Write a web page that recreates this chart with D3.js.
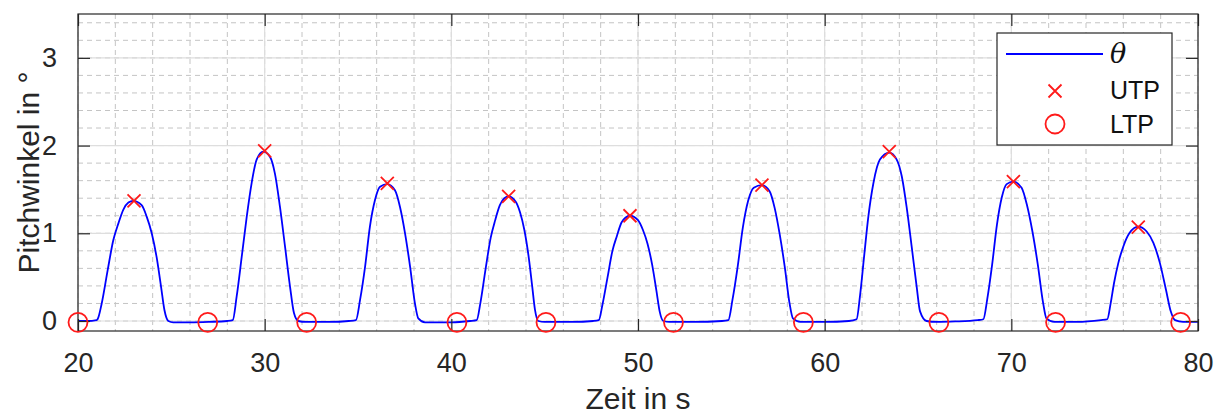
<!DOCTYPE html>
<html>
<head>
<meta charset="utf-8">
<script src="https://cdn.jsdelivr.net/npm/d3@7"></script>
<style>
    body { margin: 0; background: #fff; }
    text { font-family: "Liberation Sans", Arial, Helvetica, sans-serif; }
</style>
</head>
<body>
<div id="chart"></div>
<script>
// pitch angle trace: [time in s, angle in deg]
const thetaPoints = [
    [20.0, 0.0], [20.5, 0.0], [21.0, 0.01],
    [21.05, 0.02], [21.27, 0.20], [21.59, 0.58], [21.89, 0.92], [22.16, 1.11], [22.43, 1.27], [22.70, 1.35], [22.96, 1.37],
    [23.41, 1.32], [23.68, 1.19], [23.95, 1.0], [24.21, 0.73], [24.45, 0.39], [24.63, 0.125], [24.84, 0.0],
    [25.1, -0.015], [26.0, -0.015], [27.0, -0.01], [28.0, 0.0], [28.29, 0.01],
    [28.50, 0.28], [28.77, 0.73], [29.04, 1.19], [29.30, 1.57], [29.57, 1.84], [29.93, 1.93],
    [30.29, 1.87], [30.55, 1.68], [30.82, 1.30], [31.09, 0.85], [31.36, 0.39], [31.57, 0.09], [31.80, 0.0],
    [32.2, -0.01], [33.5, -0.01], [34.5, 0.0], [34.89, 0.01],
    [35.11, 0.24], [35.38, 0.62], [35.64, 1.08], [35.91, 1.38], [36.18, 1.53], [36.57, 1.56],
    [36.98, 1.49], [37.25, 1.30], [37.52, 1.0], [37.79, 0.62], [38.05, 0.20], [38.23, 0.03], [38.59, -0.015],
    [40.0, -0.015], [41.0, 0.0], [41.36, 0.01],
    [41.56, 0.21], [41.84, 0.60], [42.11, 0.95], [42.35, 1.15], [42.60, 1.32], [42.84, 1.40], [43.07, 1.42],
    [43.45, 1.36], [43.68, 1.24], [43.91, 1.04], [44.13, 0.75], [44.33, 0.40], [44.48, 0.13], [44.66, 0.0],
    [45.0, -0.01], [46.5, -0.01], [47.6, 0.0], [47.9, 0.01],
    [48.09, 0.18], [48.37, 0.50], [48.63, 0.80], [48.87, 0.97], [49.11, 1.12], [49.34, 1.18], [49.57, 1.20],
    [50.0, 1.15], [50.26, 1.04], [50.51, 0.88], [50.76, 0.64], [50.99, 0.34], [51.16, 0.11], [51.36, 0.0],
    [51.7, -0.01], [53.0, -0.01], [54.5, 0.0], [54.84, 0.01],
    [55.06, 0.24], [55.34, 0.62], [55.62, 1.07], [55.90, 1.37], [56.20, 1.52], [56.64, 1.55],
    [57.05, 1.48], [57.32, 1.29], [57.59, 0.99], [57.86, 0.62], [58.12, 0.20], [58.30, 0.03], [58.7, -0.01],
    [60.0, -0.01], [61.3, 0.0], [61.71, 0.02],
    [61.89, 0.28], [62.11, 0.73], [62.34, 1.19], [62.61, 1.57], [62.96, 1.84], [63.46, 1.92],
    [63.86, 1.84], [64.13, 1.65], [64.39, 1.30], [64.66, 0.85], [64.93, 0.39], [65.11, 0.11], [65.46, 0.0],
    [66.0, -0.01], [67.0, -0.005], [68.2, 0.01], [68.5, 0.02],
    [68.71, 0.25], [68.97, 0.64], [69.23, 1.10], [69.49, 1.41], [69.75, 1.56], [70.11, 1.59],
    [70.55, 1.52], [70.84, 1.32], [71.13, 1.02], [71.42, 0.64], [71.70, 0.21], [71.88, 0.03], [72.3, -0.01],
    [73.5, -0.01], [74.8, 0.01], [75.14, 0.02],
    [75.32, 0.20], [75.50, 0.43], [75.73, 0.66], [76.0, 0.85], [76.32, 1.0], [76.80, 1.075],
    [77.25, 1.02], [77.61, 0.89], [77.96, 0.66], [78.29, 0.35], [78.54, 0.11], [78.77, 0.01],
    [79.2, -0.01], [80.0, -0.01]
];

// upper turning points (x markers)
const utpPoints = [
    [23.0, 1.37], [30.0, 1.94], [36.57, 1.57], [43.07, 1.42], [49.57, 1.20],
    [56.64, 1.55], [63.46, 1.93], [70.11, 1.59], [76.8, 1.07]
];

// lower turning points (circles)
const ltpPoints = [
    [20.0, -0.015], [26.95, -0.015], [32.25, -0.015], [40.3, -0.015], [45.07, -0.015],
    [51.9, -0.015], [58.86, -0.015], [66.12, -0.015], [72.37, -0.015], [79.07, -0.015]
];

const xTicks = [20, 30, 40, 50, 60, 70, 80];
const yTicks = [0, 1, 2, 3];
const xMinorTicks = d3.range(20, 80.001, 2);
const yMinorTicks = d3.range(0, 3.5, 0.2);

const legendLabels = ["θ", "UTP", "LTP"];

let width = 1227;
let height = 414;
let margin = { top: 14, right: 29, bottom: 83, left: 78 };
let innerW = width - margin.left - margin.right;
let innerH = height - margin.top - margin.bottom;

const blue = "#0000ff";
const red = "#ff1a1a";
const axisColor = "#262626";

let svg = d3.select("#chart")
    .append("svg")
    .attr("width", width)
    .attr("height", height);

let g = svg.append("g")
    .attr("transform", `translate(${margin.left},${margin.top})`);

let xScale = d3.scaleLinear().domain([20, 80]).range([0, innerW]);
let yScale = d3.scaleLinear().domain([-0.114, 3.5]).range([innerH, 0]);

// minor grid (dashed)
g.append("g")
    .selectAll("line")
    .data(xMinorTicks)
    .join("line")
    .attr("x1", d => xScale(d)).attr("x2", d => xScale(d))
    .attr("y1", 0).attr("y2", innerH)
    .attr("stroke", "#c4c4c4")
    .attr("stroke-width", 1)
    .attr("stroke-dasharray", "5,4");

g.append("g")
    .selectAll("line")
    .data(yMinorTicks)
    .join("line")
    .attr("x1", 0).attr("x2", innerW)
    .attr("y1", d => yScale(d)).attr("y2", d => yScale(d))
    .attr("stroke", "#c4c4c4")
    .attr("stroke-width", 1)
    .attr("stroke-dasharray", "5,4");

// major grid (solid)
g.append("g")
    .selectAll("line")
    .data(xTicks)
    .join("line")
    .attr("x1", d => xScale(d)).attr("x2", d => xScale(d))
    .attr("y1", 0).attr("y2", innerH)
    .attr("stroke", "#dedede")
    .attr("stroke-width", 1.2);

g.append("g")
    .selectAll("line")
    .data(yTicks)
    .join("line")
    .attr("x1", 0).attr("x2", innerW)
    .attr("y1", d => yScale(d)).attr("y2", d => yScale(d))
    .attr("stroke", "#dedede")
    .attr("stroke-width", 1.2);

// clip for the trace
svg.append("defs").append("clipPath")
    .attr("id", "plotClip")
    .append("rect")
    .attr("width", innerW).attr("height", innerH);

let line = d3.line()
    .x(d => xScale(d[0]))
    .y(d => yScale(d[1]))
    .curve(d3.curveMonotoneX);

g.append("path")
    .datum(thetaPoints)
    .attr("clip-path", "url(#plotClip)")
    .attr("fill", "none")
    .attr("stroke", blue)
    .attr("stroke-width", 1.8)
    .attr("d", line);

// axes with inward ticks on all four sides
let tickLen = 12;
let xAxis = d3.axisBottom(xScale).tickValues(xTicks).tickSize(-tickLen).tickPadding(tickLen + 10)
    .tickFormat(d3.format("d"));
let yAxis = d3.axisLeft(yScale).tickValues(yTicks).tickSize(-tickLen).tickPadding(tickLen + 9)
    .tickFormat(d3.format("d"));

let gx = g.append("g")
    .attr("transform", `translate(0,${innerH})`)
    .call(xAxis);
let gy = g.append("g").call(yAxis);
let gxTop = g.append("g").call(d3.axisTop(xScale).tickValues(xTicks).tickSize(-tickLen).tickFormat(""));
let gyRight = g.append("g")
    .attr("transform", `translate(${innerW},0)`)
    .call(d3.axisRight(yScale).tickValues(yTicks).tickSize(-tickLen).tickFormat(""));

[gx, gy, gxTop, gyRight].forEach(a => {
    a.select(".domain").remove();
    a.selectAll(".tick line").attr("stroke", axisColor).attr("stroke-width", 1.2);
    a.selectAll(".tick text")
        .attr("fill", axisColor)
        .style("font-size", "27px")
        .style("font-family", "'Liberation Sans', Arial, sans-serif");
});

// box
g.append("rect")
    .attr("width", innerW).attr("height", innerH)
    .attr("fill", "none")
    .attr("stroke", axisColor)
    .attr("stroke-width", 1.2);

// markers: UTP crosses
let crossSize = 6.5;
g.append("g")
    .selectAll("path")
    .data(utpPoints)
    .join("path")
    .attr("transform", d => `translate(${xScale(d[0])},${yScale(d[1])})`)
    .attr("d", `M${-crossSize},${-crossSize}L${crossSize},${crossSize}M${-crossSize},${crossSize}L${crossSize},${-crossSize}`)
    .attr("stroke", red)
    .attr("stroke-width", 1.8)
    .attr("fill", "none");

// markers: LTP circles
g.append("g")
    .selectAll("circle")
    .data(ltpPoints)
    .join("circle")
    .attr("cx", d => xScale(d[0]))
    .attr("cy", d => yScale(d[1]))
    .attr("r", 9.5)
    .attr("stroke", red)
    .attr("stroke-width", 1.8)
    .attr("fill", "none");

// axis labels
svg.append("text")
    .attr("x", margin.left + innerW / 2)
    .attr("y", 409)
    .attr("text-anchor", "middle")
    .attr("fill", axisColor)
    .style("font-size", "30px")
    .text("Zeit in s");

svg.append("text")
    .attr("transform", `translate(39,${margin.top + innerH / 2}) rotate(-90)`)
    .attr("text-anchor", "middle")
    .attr("fill", axisColor)
    .style("font-size", "30px")
    .text("Pitchwinkel in °");

// legend
let legend = svg.append("g").attr("transform", "translate(997,33)");
legend.append("rect")
    .attr("width", 175).attr("height", 112)
    .attr("fill", "#fff")
    .attr("stroke", axisColor)
    .attr("stroke-width", 1.2);

legend.append("line")
    .attr("x1", 9).attr("x2", 106)
    .attr("y1", 21).attr("y2", 21)
    .attr("stroke", blue)
    .attr("stroke-width", 1.8);

legend.append("path")
    .attr("transform", "translate(58,58)")
    .attr("d", `M${-crossSize},${-crossSize}L${crossSize},${crossSize}M${-crossSize},${crossSize}L${crossSize},${-crossSize}`)
    .attr("stroke", red)
    .attr("stroke-width", 1.8);

legend.append("circle")
    .attr("cx", 58).attr("cy", 91).attr("r", 9.5)
    .attr("fill", "none")
    .attr("stroke", red)
    .attr("stroke-width", 1.8);

legend.selectAll("text.lab")
    .data(legendLabels)
    .join("text")
    .attr("class", "lab")
    .attr("x", 113)
    .attr("y", (d, i) => [30, 66, 100][i])
    .attr("fill", "#111")
    .style("font-size", (d, i) => i === 0 ? "27px" : "25px")
    .style("font-family", (d, i) => i === 0 ? "'DejaVu Serif', serif" : "'Liberation Sans', Arial, sans-serif")
    .style("font-style", (d, i) => i === 0 ? "italic" : "normal")
    .text(d => d);
</script>
</body>
</html>
